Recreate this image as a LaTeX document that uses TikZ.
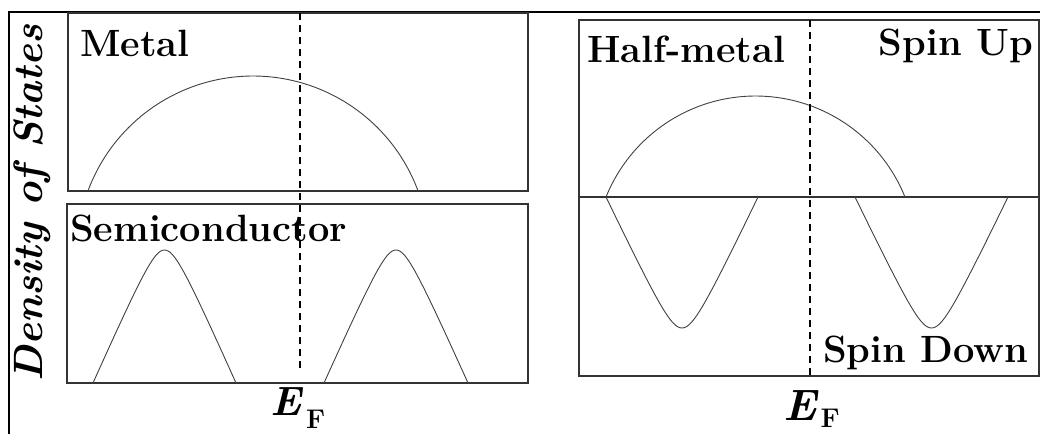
\documentclass[tikz,border=0pt]{standalone}
\usepackage{fontspec}
\begin{document}
\begin{tikzpicture}[x=1pt,y=-1pt,
  frame/.style={draw=black!80, line width=1.5pt},
  outer/.style={draw=black, line width=1.8pt},
  curve/.style={draw=black!75, line width=0.9pt},
  fermi/.style={draw=black, line width=1.1pt, dash pattern=on 7pt off 5pt},
  lbl/.style={font=\fontsize{38}{40}\selectfont\bfseries, inner sep=0pt},
  efl/.style={inner sep=0pt, anchor=base west},
  declare function={band(\u)=(1.0198-sqrt(0.04+(\u)*(\u)))/0.8198;}]
\useasboundingbox (0,0) rectangle (1040,434);
% outer frame
\draw[outer] (9,434) -- (9,12) -- (1040,12);
% panels
\draw[frame] (68,13) rectangle (528,191);
\draw[frame] (67,204) rectangle (528,383);
\draw[frame] (579,20) rectangle (1039,376);
\draw[frame] (579,197) -- (1039,197);
% metal band
\draw[curve] plot[domain=20.3:159.7, samples=80] ({253+176*cos(\x)}, {252-176*sin(\x)});
% semiconductor bands
\draw[curve] plot[domain=-1:1, samples=81] ({164.5+71.5*\x}, {383-133*band(\x)});
\draw[curve] plot[domain=-1:1, samples=81] ({396+72*\x}, {383-133*band(\x)});
% half-metal spin up
\draw[curve] plot[domain=21.9:158.1, samples=80] ({755.5+161.1*cos(\x)}, {257.1-161.1*sin(\x)});
% half-metal spin down
\draw[curve] plot[domain=-1:1, samples=81] ({682+76*\x}, {197+131*band(\x)});
\draw[curve] plot[domain=-1:1, samples=81] ({931.5+76.5*\x}, {197+131*band(\x)});
% Fermi levels
\coordinate (fl1) at (300,13);
\coordinate (fl2) at (300,372);
\coordinate (fr1) at (810,20);
\coordinate (fr2) at (810,376);
\draw[fermi] (fl1) -- (fl2);
\draw[fermi] (fr1) -- (fr2);
% labels
\node[lbl, anchor=base west] (metal) at (80,56) {Metal};
\node[lbl, anchor=base west] (semi) at (70,241) {Semiconductor};
\node[lbl, anchor=base west] (half) at (587,62) {Half-metal};
\node[lbl, anchor=base east] (up) at (1033,55) {Spin Up};
\node[lbl, anchor=base west] (down) at (823,362) {Spin Down};
\node[font=\fontsize{41}{43}\selectfont\bfseries\itshape, rotate=90, anchor=base, inner sep=0pt] (dos) at (42,203) {Density of States};
\node[efl] (efleft) at (270,415) {\fontsize{41}{43}\selectfont\bfseries\itshape E\kern5pt\lower13pt\hbox{\fontsize{27}{28}\selectfont\upshape F}};
\node[efl] (efright) at (783,420) {\fontsize{44}{46}\selectfont\bfseries\itshape E\kern4pt\lower7pt\hbox{\fontsize{27}{28}\selectfont\upshape F}};
\end{tikzpicture}
\end{document}
